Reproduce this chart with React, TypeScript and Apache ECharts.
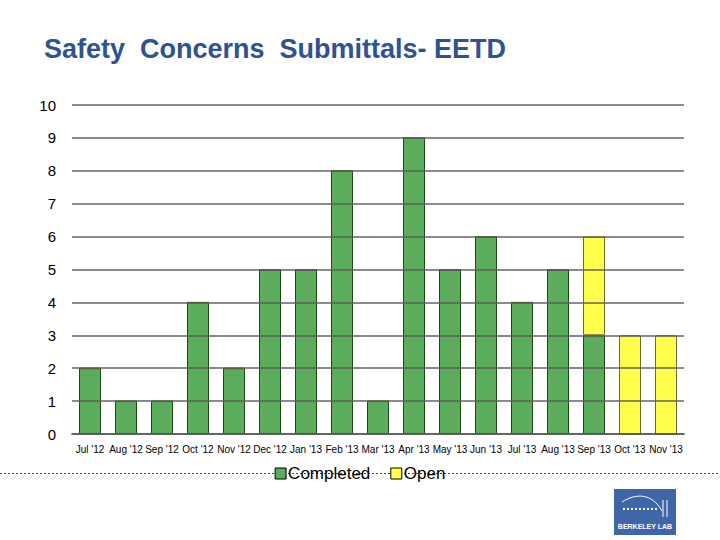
import React, { useEffect, useRef } from "react";
import * as echarts from "echarts";

const categories = ["Jul '12", "Aug '12", "Sep '12", "Oct '12", "Nov '12", "Dec '12", "Jan '13", "Feb '13", "Mar '13", "Apr '13", "May '13", "Jun '13", "Jul '13", "Aug '13", "Sep '13", "Oct '13", "Nov '13"];
const completed = [2, 1, 1, 4, 2, 5, 5, 8, 1, 9, 5, 6, 4, 5, 3, 0, 0];
const open = [0, 0, 0, 0, 0, 0, 0, 0, 0, 0, 0, 0, 0, 0, 3, 3, 3];

export default function App() {
  const ref = useRef<HTMLDivElement>(null);
  useEffect(() => {
    if (!ref.current) return;
    const chart = echarts.init(ref.current, null, { renderer: "svg" });
    chart.setOption({
      animation: false,
      backgroundColor: "#ffffff",
      title: {
        text: "Safety  Concerns  Submittals- EETD",
        left: 39,
        top: 30,
        textStyle: { fontFamily: "Liberation Sans, Arial", fontSize: 27, fontWeight: "bold", color: "#2E5293" },
      },
      grid: { left: 72, right: 36, top: 105, bottom: 106 },
      legend: {
        top: 460,
        left: "center",
        icon: "rect",
        itemWidth: 11,
        itemHeight: 11,
        itemGap: 20,
        itemStyle: { borderColor: "#000", borderWidth: 1 },
        textStyle: { fontFamily: "Liberation Sans, Arial", fontSize: 17, color: "#000", padding: [0, 0, 0, -3] },
        data: ["Completed", "Open"],
      },
      xAxis: {
        type: "category",
        data: categories,
        axisTick: { show: false },
        axisLine: { lineStyle: { color: "#808080", width: 2 } },
        axisLabel: { fontFamily: "Liberation Sans, Arial", fontSize: 10, color: "#000", margin: 10, interval: 0 },
      },
      yAxis: {
        type: "value",
        min: 0,
        max: 10,
        interval: 1,
        z: 5,
        axisLine: { show: false },
        axisTick: { show: false },
        axisLabel: { fontFamily: "Liberation Sans, Arial", fontSize: 15, color: "#000", margin: 16 },
        splitLine: { lineStyle: { color: "rgba(90,90,90,0.7)", width: 2 } },
      },
      series: [
        {
          name: "Completed",
          type: "bar",
          stack: "s",
          barWidth: 22,
          data: completed,
          itemStyle: { color: "#5BAD5B", borderColor: "#1E4A1E", borderWidth: 1 },
        },
        {
          name: "Open",
          type: "bar",
          stack: "s",
          barWidth: 22,
          data: open,
          itemStyle: { color: "#FFFF4D", borderColor: "#6B6B2A", borderWidth: 1 },
        },
      ],
      graphic: [
        {
          type: "line",
          z: -1,
          shape: { x1: 0, y1: 473.5, x2: 720, y2: 473.5 },
          style: { stroke: "#444", lineWidth: 1, lineDash: [2, 2] },
        },
        {
          type: "group",
          left: 614,
          top: 489,
          children: [
            { type: "rect", shape: { x: 0, y: 0, width: 62, height: 46 }, style: { fill: "#3F66A8" } },
            { type: "bezierCurve", shape: { x1: 8, y1: 13, cpx1: 22, cpy1: 4, x2: 48, y2: 22, cpx2: 38, cpy2: 4 }, style: { stroke: "#fff", lineWidth: 1, fill: "none" } },
            { type: "line", shape: { x1: 9, y1: 20, x2: 44, y2: 20 }, style: { stroke: "#fff", lineWidth: 2, lineDash: [2, 2] } },
            { type: "line", shape: { x1: 49, y1: 11, x2: 49, y2: 28 }, style: { stroke: "#fff", lineWidth: 1 } },
            { type: "line", shape: { x1: 53, y1: 11, x2: 53, y2: 28 }, style: { stroke: "#fff", lineWidth: 1 } },
            { type: "text", style: { text: "BERKELEY LAB", x: 31, y: 37, align: "center", verticalAlign: "middle", fill: "#fff", font: "bold 7px Liberation Sans, Arial" } },
          ],
        },
      ],
    });
    return () => chart.dispose();
  }, []);
  return <div ref={ref} style={{ position: "fixed", left: 0, top: 0, width: 720, height: 540 }} />;
}
